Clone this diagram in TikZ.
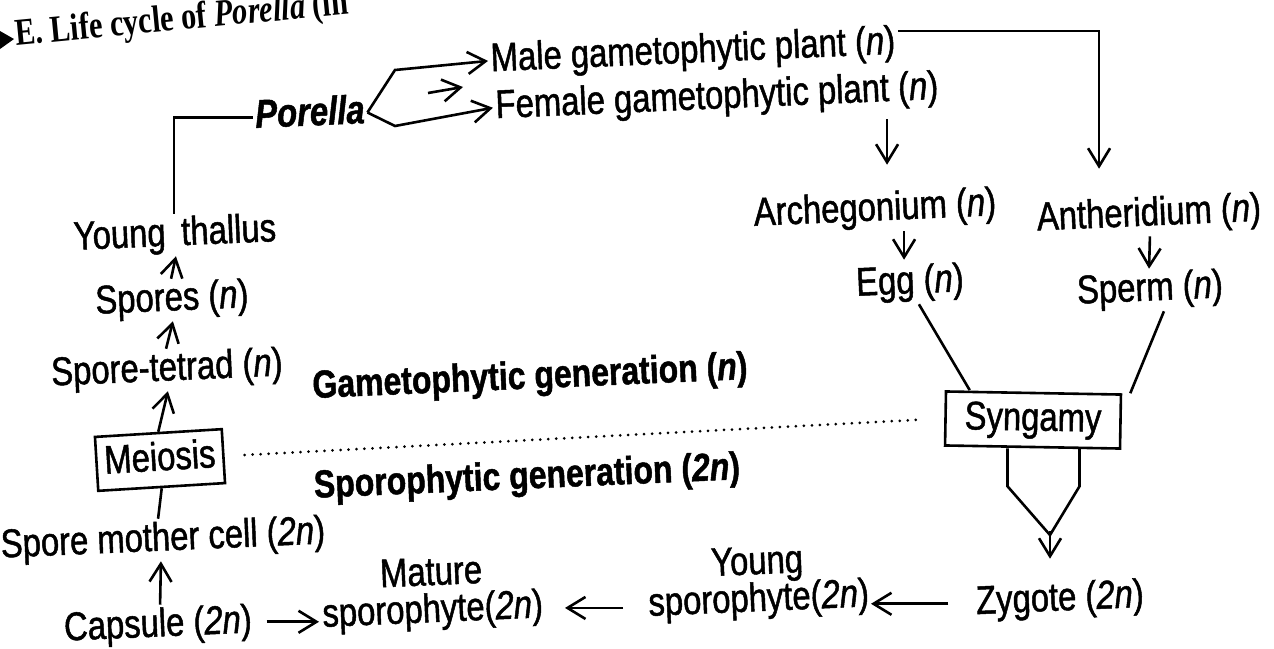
\documentclass[tikz,border=0pt]{standalone}
\usepackage{fontspec}
\setmainfont{Liberation Sans}[FakeStretch=0.82,FakeBold=1.2]
\newfontfamily\titlefont{Liberation Serif}[FakeStretch=0.8]
\usetikzlibrary{arrows.meta,calc}
\begin{document}
\begin{tikzpicture}[x=1pt,y=-1pt, line width=2.6pt,
  base/.style={font=\fontsize{40}{44}\selectfont, inner sep=1.5pt, rotate=2.5},
  txt/.style={base, text height=29pt, text depth=8pt},
  two/.style={base, align=center},
  boldtxt/.style={txt, font=\fontsize{39}{44}\selectfont\bfseries},
  boxed/.style={txt, draw, line width=2.6pt, minimum height=54pt},
  arr/.style={-{Straight Barb[length=18pt,width=22pt,line width=2.6pt]}},
  dotline/.style={line width=3pt, line cap=round, dash pattern=on 0pt off 8pt},
]
\clip (0,0) rectangle (1274,648);
\fill[white] (0,0) rectangle (1274,648);

% title (cut at top)
\fill (0,31) -- (14,39) -- (0,49) -- cycle;
\node[anchor=base west, rotate=5.5, inner sep=0pt,
      font=\titlefont\fontsize{38}{40}\selectfont\bfseries] (title) at (15,46)
      {E. Life cycle of \textit{Porella} (in};

% nodes
\node[txt] (por) at (310,115) {\textbf{\textit{Porella}}};
\node[txt] (male) at (693,52) {Male gametophytic plant (\textit{n})};
\node[txt] (fem) at (717,98) {Female gametophytic plant (\textit{n})};
\node[txt] (arch) at (875,210) {Archegonium (\textit{n})};
\node[txt] (anth) at (1149,215) {Antheridium (\textit{n})};
\node[txt] (egg) at (910,283) {Egg (\textit{n})};
\node[txt] (sperm) at (1150,290) {Sperm (\textit{n})};
\node[boxed, rotate=-3.5, minimum width=175pt] (syn) at (1033,420) {Syngamy};
\node[txt] (zyg) at (1060,600) {Zygote (\textit{2n})};
\node[two] (ys) at (758,583) {Young\\[-7pt]sporophyte(\textit{2n})};
\node[two] (mat) at (432,594) {Mature\\[-7pt]sporophyte(\textit{2n})};
\node[txt] (cap) at (158,626) {Capsule (\textit{2n})};
\node[txt] (smc) at (163,540) {Spore mother cell (\textit{2n})};
\node[boxed, rotate=1, minimum width=127pt] (mei) at (160,460) {Meiosis};
\node[txt] (st) at (167,370) {Spore-tetrad (\textit{n})};
\node[txt] (sp) at (172,300) {Spores (\textit{n})};
\node[txt] (yt) at (175,235) {Young\,\ thallus};
\node[boldtxt] (gam) at (530,378) {Gametophytic generation (\textit{n})};
\node[boldtxt] (spo) at (527,478) {Sporophytic generation (\textit{2n})};

% helper coordinates
\coordinate (bu) at (395,70);
\coordinate (bl) at (395,126);
\coordinate (s1) at (428,93);
\coordinate (s2) at (463,87);
\coordinate (conv) at (1050,535);

% connectors
\draw (yt.north) |- (por.west);
\draw[arr] (por.east) -- (bu) -- (male.west);
\draw[arr] (por.east) -- (bl) -- (fem.west);
\draw[arr] (s1) -- (s2);
\draw[arr] ([yshift=12pt]male.east) -| ([xshift=-49pt,yshift=25pt]anth.north);
\draw[arr] ([xshift=13pt]arch.north |- fem.south) -- ([xshift=13pt,yshift=24pt]arch.north);
\draw[arr] ([xshift=-5pt]egg.north |- arch.south) -- ([xshift=-5pt,yshift=2pt]egg.north);
\draw[arr] (anth.south) -- (sperm.north);
\draw ([xshift=8pt]egg.south) -- ([xshift=25pt]syn.north west);
\draw ([xshift=13pt]sperm.south) -- ([xshift=8pt]syn.north east);
\draw ([xshift=-25pt]syn.south) -- ([xshift=-25pt,yshift=-38pt]syn.south) -- (conv)
      -- ([xshift=47pt,yshift=-38pt]syn.south) -- ([xshift=47pt]syn.south);
\draw[arr] ([yshift=4pt]conv) -- ([yshift=20pt]conv |- zyg.north);
\draw[arr, shorten <=25pt] (zyg.west) -- (zyg.west -| ys.east);
\draw[arr, shorten <=22pt, shorten >=20pt] ([yshift=-20pt]ys.west) -- ([yshift=-20pt]ys.west -| mat.east);
\draw[arr, shorten <=12pt] (cap.east) -- (cap.east -| mat.west);
\draw[arr] ([xshift=3pt]cap.north) -- ([xshift=-3pt]smc.south);
\draw ([xshift=-4pt]smc.north) -- (mei.south);
\draw[arr] (mei.north) -- (st.south);
\draw[arr] (st.north) -- (sp.south);
\draw[arr] (sp.north) -- (yt.south);
\draw[dotline, shorten <=20pt, shorten >=25pt] (mei.east) -- (syn.west);
\end{tikzpicture}
\end{document}
